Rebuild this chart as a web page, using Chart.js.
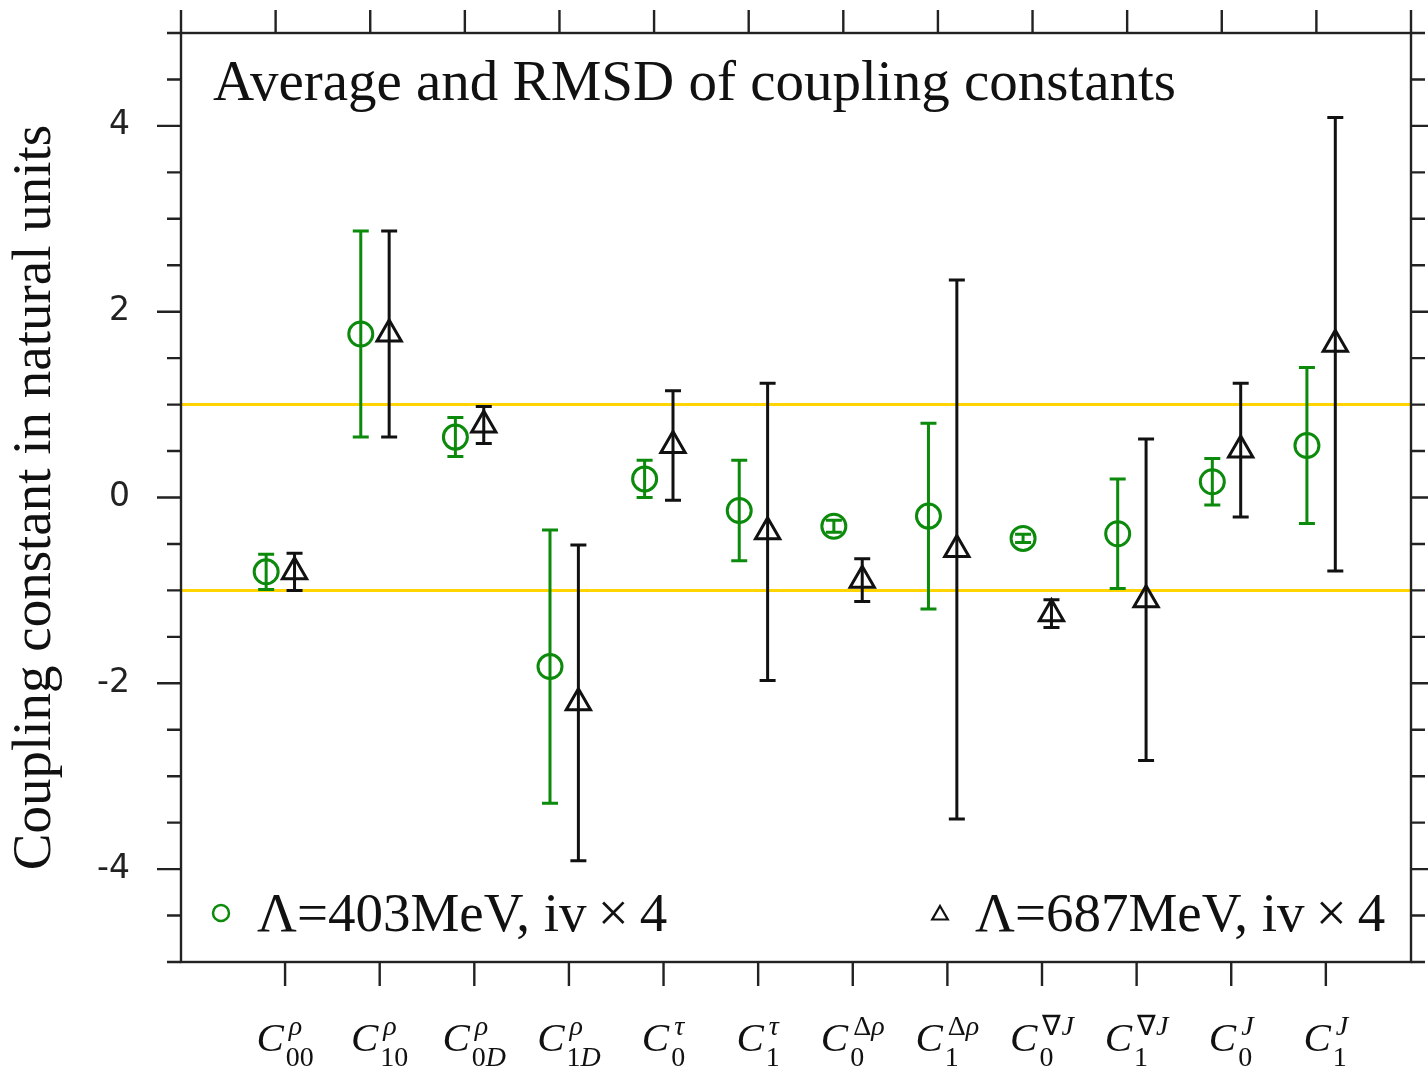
<!DOCTYPE html>
<html>
<head>
<meta charset="utf-8">
<style>
  html, body { margin: 0; padding: 0; background: #fff; }
  #wrap { width: 1428px; height: 1069px; }
</style>
<script src="https://cdn.jsdelivr.net/npm/chart.js@4.4.1/dist/chart.umd.min.js"></script>
</head>
<body>
<div id="wrap"><canvas id="coupling-chart"></canvas></div>
<script>
// coupling constant names: C with superscript / subscript
const labelSup = ['ρ', 'ρ', 'ρ', 'ρ', 'τ', 'τ', 'Δρ', 'Δρ', '∇J', '∇J', 'J', 'J'];
const labelSub = ['00', '10', '0D', '1D', '0', '1', '0', '1', '0', '1', '0', '1'];

// average and RMSD, Lambda = 403 MeV
const avg403 = [-0.80, 1.76, 0.65, -1.82, 0.20, -0.14, -0.31, -0.20, -0.44, -0.39, 0.17, 0.56];
const rmsd403 = [0.19, 1.11, 0.21, 1.47, 0.20, 0.54, 0.065, 1.00, 0.045, 0.59, 0.25, 0.84];

// average and RMSD, Lambda = 687 MeV
const avg687 = [-0.80, 1.76, 0.78, -2.21, 0.56, -0.37, -0.89, -0.56, -1.25, -1.10, 0.51, 1.65];
const rmsd687 = [0.20, 1.11, 0.20, 1.70, 0.59, 1.60, 0.23, 2.90, 0.15, 1.73, 0.72, 2.44];

const yTickLabels = [-4, -2, 0, 2, 4];
const bandLevels = [1, -1];

const green = '#0b8a0b';
const black = '#111';
const axisColor = '#222';
const serif = '"Liberation Serif", "Times New Roman", serif';

let bandData = bandLevels.map(v => [{x: 0, y: v}, {x: 13, y: v}]);

const errorBars = {
    id: 'errorBars',
    afterDatasetsDraw(chart) {
        let ctx = chart.ctx, xs = chart.scales.x, ys = chart.scales.y;
        chart.data.datasets.forEach(ds => {
            if (!ds.errors) return;
            ctx.save();
            ctx.strokeStyle = ds.borderColor;
            ctx.lineWidth = 3;
            ds.data.forEach((p, i) => {
                let px = xs.getPixelForValue(p.x);
                let top = ys.getPixelForValue(p.y + ds.errors[i]);
                let bot = ys.getPixelForValue(p.y - ds.errors[i]);
                ctx.beginPath();
                ctx.moveTo(px, top); ctx.lineTo(px, bot);
                ctx.moveTo(px - 8, top); ctx.lineTo(px + 8, top);
                ctx.moveTo(px - 8, bot); ctx.lineTo(px + 8, bot);
                ctx.stroke();
            });
            ctx.restore();
        });
    }
};

// draw a run of characters, letters italic, digits and operators upright
function drawRun(ctx, text, x, y, size, measureOnly) {
    let w = 0;
    for (let ch of text) {
        ctx.font = (/[A-Za-zρτ]/.test(ch) ? 'italic ' : '') + size + 'px ' + serif;
        if (!measureOnly) ctx.fillText(ch, x + w, y);
        w += ctx.measureText(ch).width;
    }
    return w;
}

function drawCoupling(ctx, cx, sup, sub) {
    let baseY = 1051;
    let big = 41, small = 28;
    ctx.font = 'italic ' + big + 'px ' + serif;
    let wC = ctx.measureText('C').width;
    let wSup = drawRun(ctx, sup, 0, 0, small, true);
    let wSub = drawRun(ctx, sub, 0, 0, small, true);
    let total = wC + Math.max(wSup + 5, wSub + 2);
    let x0 = cx - total / 2;
    ctx.font = 'italic ' + big + 'px ' + serif;
    ctx.fillText('C', x0, baseY);
    drawRun(ctx, sup, x0 + wC + 5, baseY - 16, small, false);
    drawRun(ctx, sub, x0 + wC + 2, baseY + 15, small, false);
}

const frameAndText = {
    id: 'frameAndText',
    afterDraw(chart) {
        let ctx = chart.ctx, a = chart.chartArea;
        let xs = chart.scales.x, ys = chart.scales.y;
        ctx.save();
        ctx.strokeStyle = axisColor;
        ctx.lineWidth = 2.4;
        ctx.strokeRect(a.left, a.top, a.right - a.left, a.bottom - a.top);

        ctx.beginPath();
        // top ticks
        for (let k = 0; k <= 13; k++) {
            let px = xs.getPixelForValue(k);
            ctx.moveTo(px, a.top); ctx.lineTo(px, a.top - 23);
        }
        // bottom ticks under each category
        for (let i = 1; i <= labelSub.length; i++) {
            let px = xs.getPixelForValue(i + 0.1);
            ctx.moveTo(px, a.bottom); ctx.lineTo(px, a.bottom + 24);
        }
        // left / right ticks
        for (let v = -5; v <= 5; v += 0.5) {
            let py = ys.getPixelForValue(v);
            let len = yTickLabels.includes(v) ? 24 : 14;
            ctx.moveTo(a.left, py); ctx.lineTo(a.left - len, py);
            ctx.moveTo(a.right, py); ctx.lineTo(a.right + len, py);
        }
        ctx.stroke();

        ctx.fillStyle = '#111';
        ctx.textBaseline = 'alphabetic';
        ctx.textAlign = 'left';
        ctx.font = '57px ' + serif;
        ctx.fillText('Average and RMSD of coupling constants', 213, 100);

        // legend
        ctx.font = '55px ' + serif;
        ctx.fillText('Λ=403MeV, iv\u2009×\u20094', 257, 931);
        ctx.fillText('Λ=687MeV, iv\u2009×\u20094', 975, 931);
        ctx.lineWidth = 2.5;
        ctx.strokeStyle = green;
        ctx.beginPath();
        ctx.arc(221, 913, 8, 0, Math.PI * 2);
        ctx.stroke();
        ctx.strokeStyle = black;
        ctx.lineWidth = 2.2;
        ctx.beginPath();
        ctx.moveTo(940, 906);
        ctx.lineTo(940 + 7.8, 919.5);
        ctx.lineTo(940 - 7.8, 919.5);
        ctx.closePath();
        ctx.stroke();

        // category labels
        ctx.fillStyle = '#111';
        for (let i = 0; i < labelSub.length; i++) {
            drawCoupling(ctx, xs.getPixelForValue(i + 1.1), labelSup[i], labelSub[i]);
        }
        ctx.restore();
    }
};

window.onload = function () {
    let ctx = document.getElementById('coupling-chart').getContext('2d');
    new Chart(ctx, {
        type: 'scatter',
        data: {
            datasets: [{
                label: 'Λ=403MeV, iv×4',
                data: avg403.map((v, i) => ({x: i + 0.9, y: v})),
                errors: rmsd403,
                pointStyle: 'circle',
                pointRadius: 12,
                pointHoverRadius: 12,
                borderWidth: 3,
                borderColor: green,
                backgroundColor: 'rgba(0,0,0,0)'
            }, {
                label: 'Λ=687MeV, iv×4',
                data: avg687.map((v, i) => ({x: i + 1.2, y: v})),
                errors: rmsd687,
                pointStyle: 'triangle',
                pointRadius: 14,
                pointHoverRadius: 14,
                borderWidth: 3,
                borderColor: black,
                backgroundColor: 'rgba(0,0,0,0)'
            }].concat(bandData.map(d => ({
                type: 'line',
                data: d,
                borderColor: '#ffd400',
                borderWidth: 3,
                pointRadius: 0
            })))
        },
        options: {
            responsive: true,
            maintainAspectRatio: false,
            animation: false,
            events: [],
            layout: {padding: {top: 33, bottom: 107, right: 12, left: 0}},
            plugins: {legend: {display: false}, tooltip: {enabled: false}},
            scales: {
                x: {type: 'linear', min: 0, max: 13, display: false},
                y: {
                    min: -5,
                    max: 5,
                    afterFit: scale => {
                        scale.width = 181;
                        scale.paddingTop = 0;
                        scale.paddingBottom = 0;
                    },
                    grid: {display: false, drawTicks: false},
                    border: {display: false},
                    ticks: {
                        stepSize: 0.5,
                        padding: 51,
                        color: '#222',
                        font: {family: '"DejaVu Sans", sans-serif', size: 33},
                        callback: v => yTickLabels.includes(v) ? String(v) : ''
                    },
                    title: {
                        display: true,
                        text: 'Coupling constant in natural units',
                        color: '#111',
                        font: {family: serif, size: 55},
                        padding: {top: 3, bottom: 0}
                    }
                }
            }
        },
        plugins: [errorBars, frameAndText]
    });
};
</script>
</body>
</html>
